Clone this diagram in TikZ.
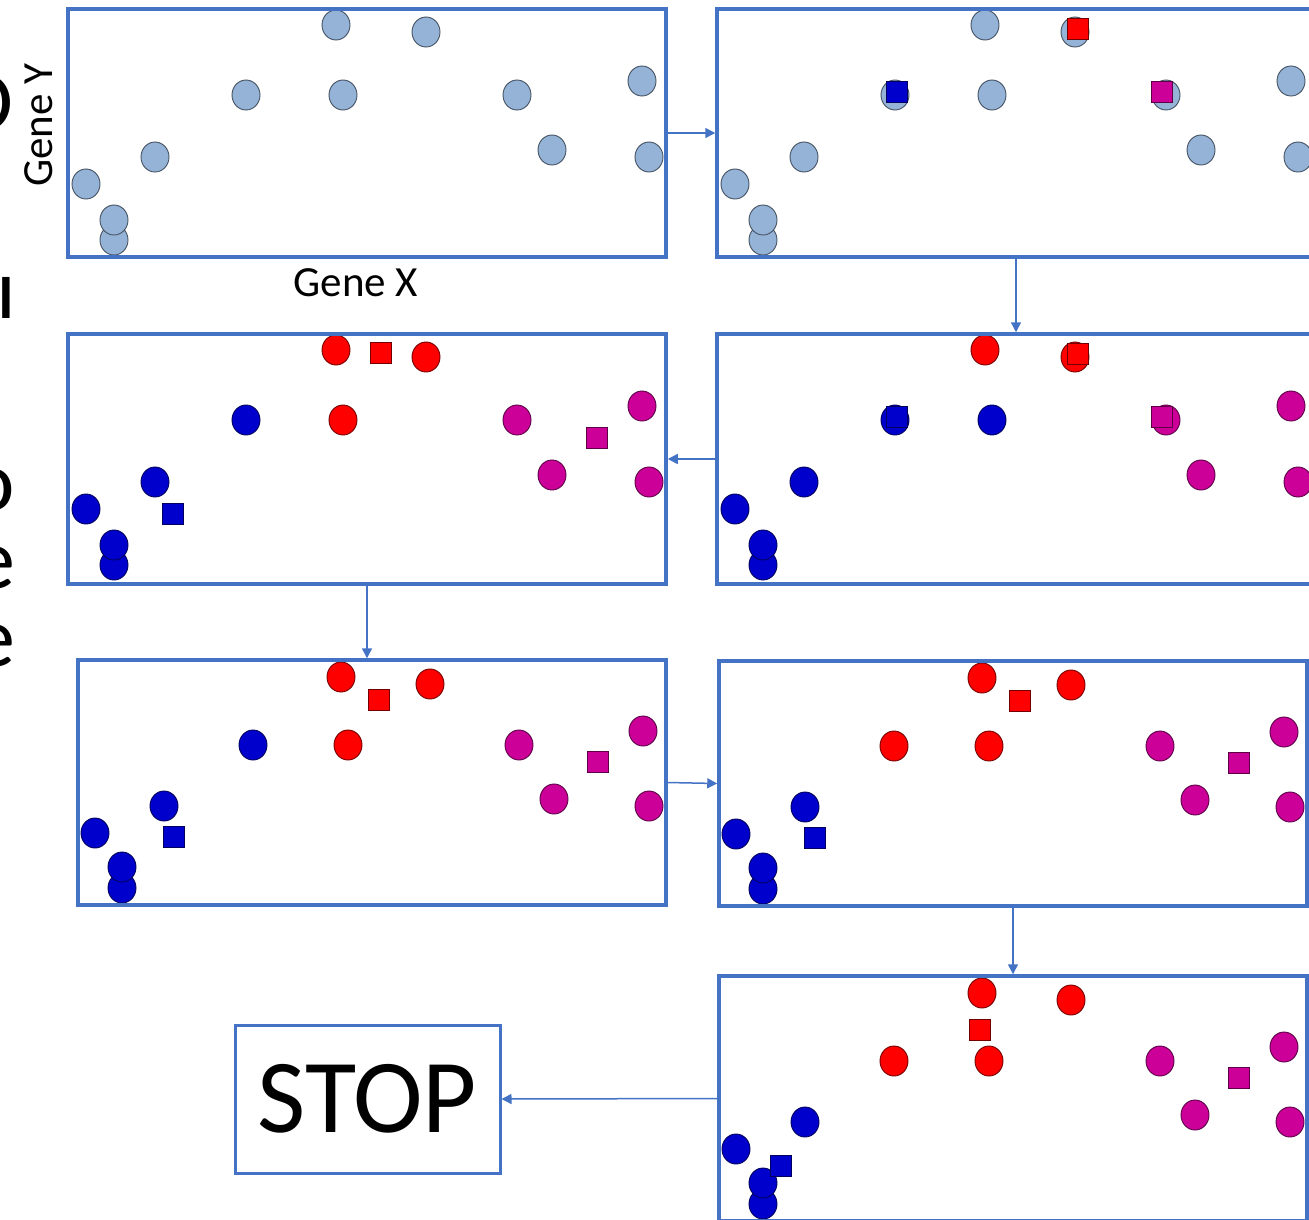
\documentclass[tikz,border=0pt]{standalone}
\usepackage{fontspec}
\setmainfont{Carlito}
\usetikzlibrary{arrows.meta}
\definecolor{pborder}{HTML}{4472C4}
\definecolor{lblue}{HTML}{95B3D7}
\definecolor{cblue}{HTML}{0000CC}
\definecolor{cred}{HTML}{FF0000}
\definecolor{cmag}{HTML}{CC0099}
\tikzset{
  panel/.style={draw=pborder, line width=3.5pt, inner sep=0pt, minimum width=#1},
  panel/.default=598pt,
  dot/.style={line width=0.9pt},
  sqbox/.style={line width=0.9pt},
  conn/.style={draw=pborder, line width=1.5pt, -{Triangle[length=10pt,width=10pt]}},
  stopbox/.style={draw=pborder, line width=3pt, minimum width=265pt, minimum height=148pt, inner sep=0pt, font=\fontsize{105}{110}\selectfont},
  lbl/.style={inner sep=0pt, font=\fontsize{43}{50}\selectfont},
  frag/.style={inner sep=0pt, font=\fontsize{86}{90}\selectfont}
}
% templates (A, C, B, D, E, F, G, H, I, J, K, L) relative to panel top-left
\def\TA{18/175,46/231,46/211,87/148,178/86,275/86,268/16,358/23,449/86,484/141,574/72,581/148}
\def\TB{17/173,44/228,44/207,86/146,175/85,270/85,263/17,352/24,441/85,476/139,565/71,571/146}
\newcommand\clusterpts[4]{%
  \foreach \x/\y [count=\i] in #1 {
    \ifnum\i>#3 \def\c{cmag}\else\ifnum\i>#2 \def\c{cred}\else\def\c{#4}\fi\fi
    \path[dot, fill=\c, draw=\c!45!black] (\x,\y) ellipse [x radius=14pt, y radius=15pt];
  }}
\newcommand\sqr[3]{\path[sqbox, fill=#3, draw=#3!45!black] (#1-10.5,#2-10.5) rectangle ++(21,21);}
\begin{document}
\begin{tikzpicture}[x=1pt,y=-1pt]
\fill[white] (0,0) rectangle (1309,1219);
\useasboundingbox (0,0) rectangle (1309,1219);

% cut-off text fragments at the left edge
\node[frag, anchor=base east] (f1) at (14,130) {O};
\node[frag, anchor=base east] (f2) at (16,318) {ı};
\node[frag, anchor=base east] (f3) at (15,510) {o};
\node[frag, anchor=base east] (f4) at (15,588) {e};
\node[frag, anchor=base east] (f5) at (15,666) {e};

% axis labels
\node[lbl, rotate=90, anchor=base] (gy) at (52,125) {Gene Y};
\node[lbl, anchor=base] (gx) at (356,296) {Gene X};

% points
\begin{scope}[shift={(68,9)}]\clusterpts{\TA}{12}{12}{lblue}\end{scope}
\begin{scope}[shift={(717,9)}]\clusterpts{\TA}{12}{12}{lblue}\end{scope}
\sqr{897}{92}{cblue}\sqr{1078}{29}{cred}\sqr{1162}{92}{cmag}
\begin{scope}[shift={(717,334)}]\clusterpts{\TA}{6}{8}{cblue}\end{scope}
\sqr{897}{417}{cblue}\sqr{1078}{354}{cred}\sqr{1162}{417}{cmag}
\begin{scope}[shift={(68,334)}]\clusterpts{\TA}{5}{8}{cblue}\end{scope}
\sqr{173}{514}{cblue}\sqr{381}{353}{cred}\sqr{597}{438}{cmag}
\begin{scope}[shift={(78,660)}]\clusterpts{\TB}{5}{8}{cblue}\end{scope}
\sqr{174}{837}{cblue}\sqr{379}{700}{cred}\sqr{598}{762}{cmag}
\begin{scope}[shift={(719,661)}]\clusterpts{\TB}{4}{8}{cblue}\end{scope}
\sqr{815}{838}{cblue}\sqr{1020}{701}{cred}\sqr{1239}{763}{cmag}
\begin{scope}[shift={(719,976)}]\clusterpts{\TB}{4}{8}{cblue}\end{scope}
\sqr{781}{1166}{cblue}\sqr{980}{1030}{cred}\sqr{1239}{1078}{cmag}

% panels
\node[panel, minimum height=248pt] (p1) at (367,133) {};
\node[panel, minimum height=248pt] (p2) at (1016,133) {};
\node[panel, minimum height=250pt] (p3) at (1016,459) {};
\node[panel, minimum height=250pt] (p4) at (367,459) {};
\node[panel=588pt, minimum height=245pt] (p5) at (372,782.5) {};
\node[panel=588pt, minimum height=245pt] (p6) at (1013,783.5) {};
\node[panel=588pt, minimum height=245pt] (p7) at (1013,1098.5) {};
\node[stopbox] (stop) at (367.5,1099) {STOP};

% connectors
\draw[conn] (p1.east) -- (p2.west);
\draw[conn] (p2.south) -- (p3.north);
\draw[conn] (p3.west) -- (p4.east);
\draw[conn] (p4.south) -- (p4.south |- p5.north);
\draw[conn] (p5.east) -- (p6.west);
\draw[conn] (p6.south) -- (p7.north);
\draw[conn] (p7.west) -- (stop.east);
\end{tikzpicture}
\end{document}
